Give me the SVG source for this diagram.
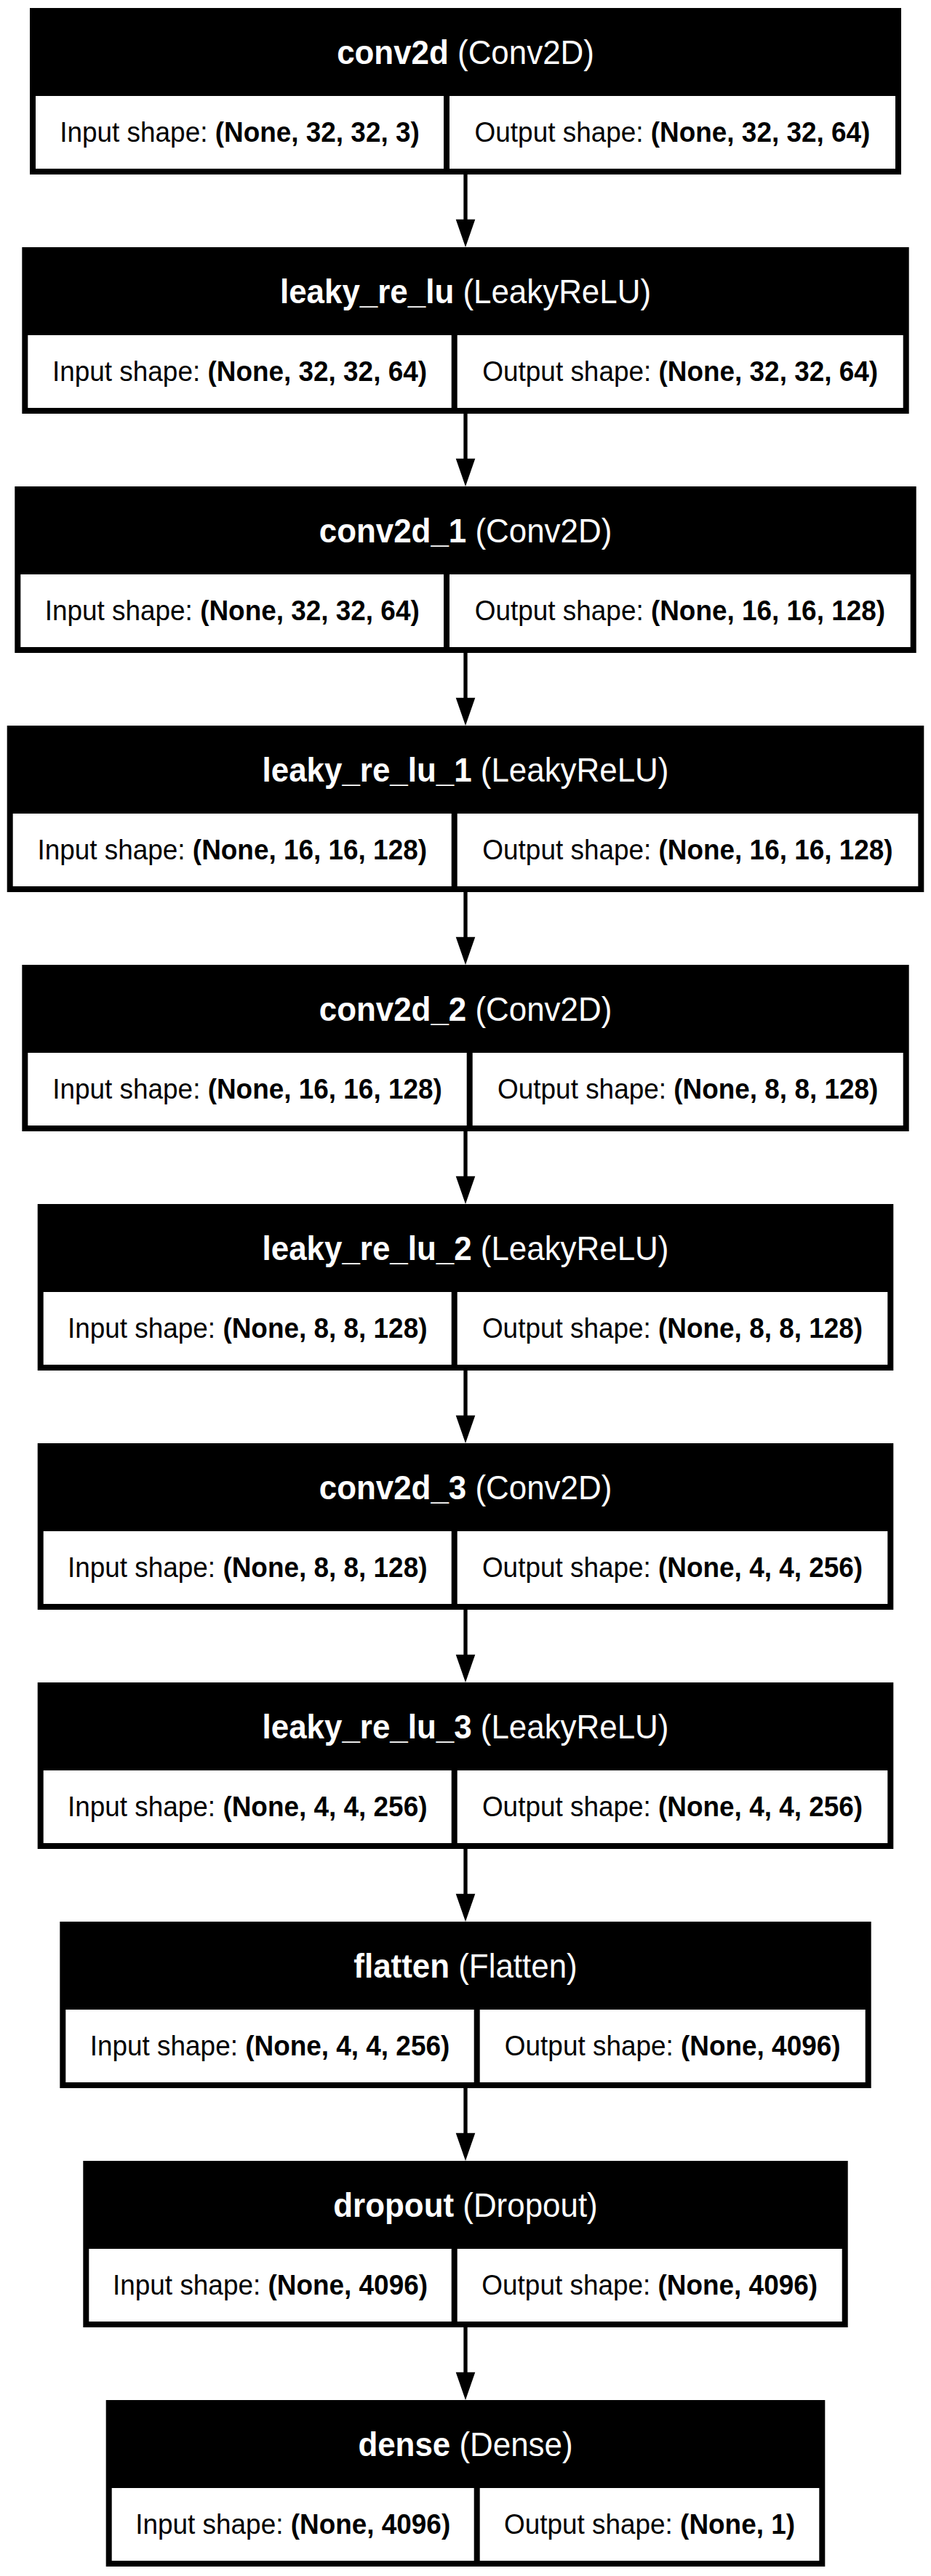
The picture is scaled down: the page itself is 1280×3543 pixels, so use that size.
<svg xmlns="http://www.w3.org/2000/svg" width="1280" height="3543" viewBox="0 0 1280 3543">
<style>
.box{fill:#000}
.cell{fill:#fff}
.hd{font-family:"Liberation Sans",Arial,Helvetica,sans-serif;font-size:45.5px;fill:#fff;text-anchor:middle}
.tx{font-family:"Liberation Sans",Arial,Helvetica,sans-serif;font-size:39.5px;fill:#000;text-anchor:middle}
.b{font-weight:bold}
.edge{stroke:#000;stroke-width:5.3;fill:none}
.head{fill:#000;stroke:none}
</style>
<rect width="1280" height="3543" fill="#fff"/>
<g id="edges">
<line class="edge" x1="640" y1="240" x2="640" y2="303"/><polygon class="head" points="626.7,301.7 653.3,301.7 640,340"/>
<line class="edge" x1="640" y1="569" x2="640" y2="632"/><polygon class="head" points="626.7,630.7 653.3,630.7 640,669"/>
<line class="edge" x1="640" y1="898" x2="640" y2="961"/><polygon class="head" points="626.7,959.7 653.3,959.7 640,998"/>
<line class="edge" x1="640" y1="1227" x2="640" y2="1290"/><polygon class="head" points="626.7,1288.7 653.3,1288.7 640,1327"/>
<line class="edge" x1="640" y1="1556" x2="640" y2="1619"/><polygon class="head" points="626.7,1617.7 653.3,1617.7 640,1656"/>
<line class="edge" x1="640" y1="1885" x2="640" y2="1948"/><polygon class="head" points="626.7,1946.7 653.3,1946.7 640,1985"/>
<line class="edge" x1="640" y1="2214" x2="640" y2="2277"/><polygon class="head" points="626.7,2275.7 653.3,2275.7 640,2314"/>
<line class="edge" x1="640" y1="2543" x2="640" y2="2606"/><polygon class="head" points="626.7,2604.7 653.3,2604.7 640,2643"/>
<line class="edge" x1="640" y1="2872" x2="640" y2="2935"/><polygon class="head" points="626.7,2933.7 653.3,2933.7 640,2972"/>
<line class="edge" x1="640" y1="3201" x2="640" y2="3264"/><polygon class="head" points="626.7,3262.7 653.3,3262.7 640,3301"/>
</g>

<g id="conv2d">
<rect class="box" x="41" y="11" width="1198" height="229"/>
<rect class="cell" x="49" y="132" width="561" height="100"/>
<rect class="cell" x="618" y="132" width="613" height="100"/>
<text class="hd" transform="translate(640 88) scale(0.965 1)"><tspan class="b">conv2d</tspan> (Conv2D)</text>
<text class="tx" transform="translate(329.5 195) scale(0.935 1)">Input shape: <tspan class="b">(None, 32, 32, 3)</tspan></text>
<text class="tx" transform="translate(924.5 195) scale(0.935 1)">Output shape: <tspan class="b">(None, 32, 32, 64)</tspan></text>
</g>

<g id="leaky_re_lu">
<rect class="box" x="30.3" y="340" width="1219.4" height="229"/>
<rect class="cell" x="38.3" y="461" width="582.4" height="100"/>
<rect class="cell" x="628.7" y="461" width="613" height="100"/>
<text class="hd" transform="translate(640 417) scale(0.965 1)"><tspan class="b">leaky_re_lu</tspan> (LeakyReLU)</text>
<text class="tx" transform="translate(329.5 524) scale(0.935 1)">Input shape: <tspan class="b">(None, 32, 32, 64)</tspan></text>
<text class="tx" transform="translate(935.2 524) scale(0.935 1)">Output shape: <tspan class="b">(None, 32, 32, 64)</tspan></text>
</g>

<g id="conv2d_1">
<rect class="box" x="20.3" y="669" width="1239.4" height="229"/>
<rect class="cell" x="28.3" y="790" width="581.7" height="100"/>
<rect class="cell" x="618" y="790" width="633.7" height="100"/>
<text class="hd" transform="translate(640 746) scale(0.965 1)"><tspan class="b">conv2d_1</tspan> (Conv2D)</text>
<text class="tx" transform="translate(319.2 853) scale(0.935 1)">Input shape: <tspan class="b">(None, 32, 32, 64)</tspan></text>
<text class="tx" transform="translate(934.9 853) scale(0.935 1)">Output shape: <tspan class="b">(None, 16, 16, 128)</tspan></text>
</g>

<g id="leaky_re_lu_1">
<rect class="box" x="9.7" y="998" width="1260.6" height="229"/>
<rect class="cell" x="17.7" y="1119" width="603" height="100"/>
<rect class="cell" x="628.7" y="1119" width="633.6" height="100"/>
<text class="hd" transform="translate(640 1075) scale(0.965 1)"><tspan class="b">leaky_re_lu_1</tspan> (LeakyReLU)</text>
<text class="tx" transform="translate(319.2 1182) scale(0.935 1)">Input shape: <tspan class="b">(None, 16, 16, 128)</tspan></text>
<text class="tx" transform="translate(945.5 1182) scale(0.935 1)">Output shape: <tspan class="b">(None, 16, 16, 128)</tspan></text>
</g>

<g id="conv2d_2">
<rect class="box" x="30.3" y="1327" width="1219.4" height="229"/>
<rect class="cell" x="38.3" y="1448" width="603.4" height="100"/>
<rect class="cell" x="649.7" y="1448" width="592" height="100"/>
<text class="hd" transform="translate(640 1404) scale(0.965 1)"><tspan class="b">conv2d_2</tspan> (Conv2D)</text>
<text class="tx" transform="translate(340 1511) scale(0.935 1)">Input shape: <tspan class="b">(None, 16, 16, 128)</tspan></text>
<text class="tx" transform="translate(945.7 1511) scale(0.935 1)">Output shape: <tspan class="b">(None, 8, 8, 128)</tspan></text>
</g>

<g id="leaky_re_lu_2">
<rect class="box" x="51.7" y="1656" width="1176.6" height="229"/>
<rect class="cell" x="59.7" y="1777" width="561" height="100"/>
<rect class="cell" x="628.7" y="1777" width="591.6" height="100"/>
<text class="hd" transform="translate(640 1733) scale(0.965 1)"><tspan class="b">leaky_re_lu_2</tspan> (LeakyReLU)</text>
<text class="tx" transform="translate(340.2 1840) scale(0.935 1)">Input shape: <tspan class="b">(None, 8, 8, 128)</tspan></text>
<text class="tx" transform="translate(924.5 1840) scale(0.935 1)">Output shape: <tspan class="b">(None, 8, 8, 128)</tspan></text>
</g>

<g id="conv2d_3">
<rect class="box" x="51.7" y="1985" width="1176.6" height="229"/>
<rect class="cell" x="59.7" y="2106" width="561" height="100"/>
<rect class="cell" x="628.7" y="2106" width="591.6" height="100"/>
<text class="hd" transform="translate(640 2062) scale(0.965 1)"><tspan class="b">conv2d_3</tspan> (Conv2D)</text>
<text class="tx" transform="translate(340.2 2169) scale(0.935 1)">Input shape: <tspan class="b">(None, 8, 8, 128)</tspan></text>
<text class="tx" transform="translate(924.5 2169) scale(0.935 1)">Output shape: <tspan class="b">(None, 4, 4, 256)</tspan></text>
</g>

<g id="leaky_re_lu_3">
<rect class="box" x="51.7" y="2314" width="1176.6" height="229"/>
<rect class="cell" x="59.7" y="2435" width="561" height="100"/>
<rect class="cell" x="628.7" y="2435" width="591.6" height="100"/>
<text class="hd" transform="translate(640 2391) scale(0.965 1)"><tspan class="b">leaky_re_lu_3</tspan> (LeakyReLU)</text>
<text class="tx" transform="translate(340.2 2498) scale(0.935 1)">Input shape: <tspan class="b">(None, 4, 4, 256)</tspan></text>
<text class="tx" transform="translate(924.5 2498) scale(0.935 1)">Output shape: <tspan class="b">(None, 4, 4, 256)</tspan></text>
</g>

<g id="flatten">
<rect class="box" x="82.3" y="2643" width="1115.4" height="229"/>
<rect class="cell" x="90.3" y="2764" width="561.4" height="100"/>
<rect class="cell" x="659.7" y="2764" width="530" height="100"/>
<text class="hd" transform="translate(640 2720) scale(0.965 1)"><tspan class="b">flatten</tspan> (Flatten)</text>
<text class="tx" transform="translate(371 2827) scale(0.935 1)">Input shape: <tspan class="b">(None, 4, 4, 256)</tspan></text>
<text class="tx" transform="translate(924.7 2827) scale(0.935 1)">Output shape: <tspan class="b">(None, 4096)</tspan></text>
</g>

<g id="dropout">
<rect class="box" x="114.3" y="2972" width="1051.4" height="229"/>
<rect class="cell" x="122.3" y="3093" width="498.4" height="100"/>
<rect class="cell" x="628.7" y="3093" width="529" height="100"/>
<text class="hd" transform="translate(640 3049) scale(0.965 1)"><tspan class="b">dropout</tspan> (Dropout)</text>
<text class="tx" transform="translate(371.5 3156) scale(0.935 1)">Input shape: <tspan class="b">(None, 4096)</tspan></text>
<text class="tx" transform="translate(893.2 3156) scale(0.935 1)">Output shape: <tspan class="b">(None, 4096)</tspan></text>
</g>

<g id="dense">
<rect class="box" x="145.7" y="3301" width="988.6" height="229"/>
<rect class="cell" x="153.7" y="3422" width="498" height="100"/>
<rect class="cell" x="659.7" y="3422" width="466.6" height="100"/>
<text class="hd" transform="translate(640 3378) scale(0.965 1)"><tspan class="b">dense</tspan> (Dense)</text>
<text class="tx" transform="translate(402.7 3485) scale(0.935 1)">Input shape: <tspan class="b">(None, 4096)</tspan></text>
<text class="tx" transform="translate(893 3485) scale(0.935 1)">Output shape: <tspan class="b">(None, 1)</tspan></text>
</g>
</svg>
